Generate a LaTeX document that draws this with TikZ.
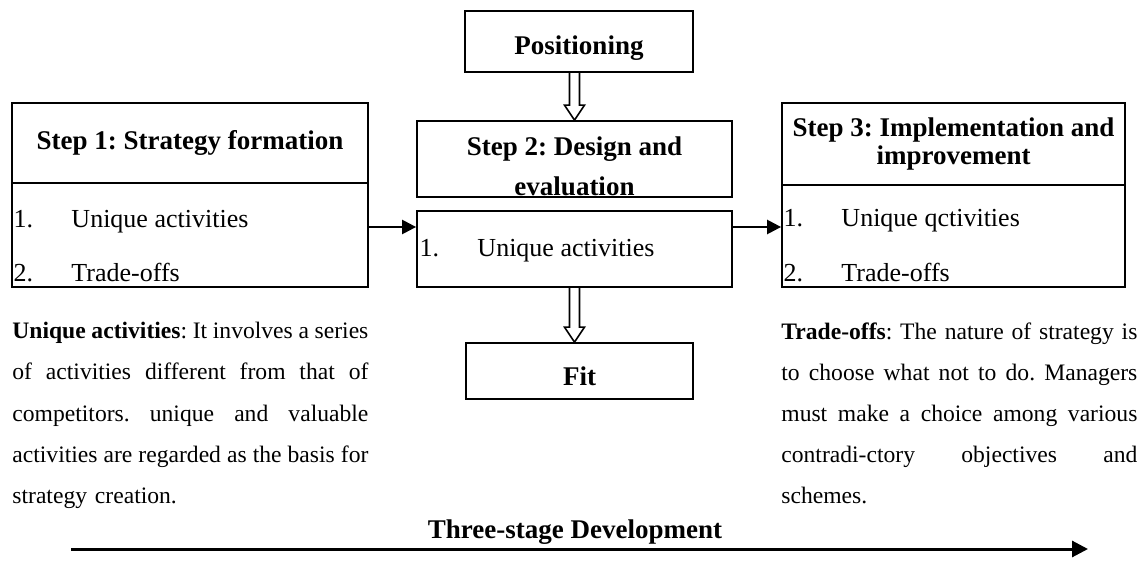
\documentclass[tikz,border=0pt]{standalone}
\usepackage{fontspec}
\setmainfont{Liberation Serif}
\usetikzlibrary{arrows.meta,positioning,calc}

% hollow down arrow: shaft from #1, tip at #2
\newcommand{\hollowdown}[2]{%
  \draw[hollow] ($(#1)+(-5,0)$) -- ($(#2)+(-5,-15)$) -- ($(#2)+(-10,-15)$) -- (#2)
    -- ($(#2)+(10,-15)$) -- ($(#2)+(5,-15)$) -- ($(#1)+(5,0)$);}
% one justified line of a description
\newcommand{\jline}[1]{{\spaceskip=0.25em plus 1fil minus 0.08em\makebox[178pt][s]{#1}}}

\begin{document}
\begin{tikzpicture}[x=0.5pt, y=-0.5pt,
    box/.style={draw, line width=0.9pt, inner sep=0pt, align=center, font=\fontsize{13.5}{14}\selectfont\bfseries\frenchspacing},
    item/.style={anchor=base west, inner sep=0pt, font=\fontsize{13}{14}\selectfont},
    para/.style={anchor=north west, inner sep=0pt, text width=178pt, align=left, font=\fontsize{11.8}{20.6}\selectfont\frenchspacing},
    arr/.style={-{Triangle[length=7pt, width=7pt]}, line width=1.2pt},
    hollow/.style={line width=0.8pt},
    longarr/.style={-{Triangle[length=8pt, width=8pt]}, line width=1.5pt}
]
\useasboundingbox (0,0) rectangle (1146,583);

% top and middle column
\node[box, minimum width=114pt, minimum height=30.5pt, text height=13.5pt, text depth=0pt] (pos) at (579,41.5) {Positioning};
\node[box, minimum width=157.5pt, minimum height=38pt] (s2head) at (574.5,159) {\rule{0pt}{16.5pt}Step 2: Design and\\[6pt] evaluation};
\node[box, minimum width=157.5pt, minimum height=38pt] (s2list) at (574.5,249) {};
\node[box, minimum width=113.5pt, minimum height=28pt, text height=14pt, text depth=0pt] (fit) at (579.5,371) {Fit};

% left and right steps
\node[box, minimum width=178pt, minimum height=40pt, text height=6pt, text depth=0pt] (s1head) at (190,143) {Step 1: Strategy formation};
\node[box, minimum width=178pt, minimum height=52pt] (s1list) at (190,235) {};
\node[box, minimum width=171.5pt, minimum height=41pt] (s3head) at (953.5,144) {Step 3: Implementation and\\[0pt] improvement};
\node[box, minimum width=171.5pt, minimum height=51pt] (s3list) at (953.5,236) {};

% list items
\node[item] (s1a) at ($(s1list.north west)+(2,45)$) {\makebox[29pt][l]{1.}Unique activities};
\node[item] (s1b) at ($(s1list.north west)+(2,99)$) {\makebox[29pt][l]{2.}Trade-offs};
\node[item] (s2a) at ($(s2list.north west)+(3,46)$) {\makebox[29pt][l]{1.}Unique activities};
\node[item] (s3a) at ($(s3list.north west)+(2,42)$) {\makebox[29pt][l]{1.}Unique qctivities};
\node[item] (s3b) at ($(s3list.north west)+(2,97)$) {\makebox[29pt][l]{2.}Trade-offs};

% connectors
\draw[arr] ([yshift=4pt]s1list.east) -- ([yshift=4pt]s1list.east -| s2list.west);
\draw[arr] ([yshift=4pt]s1list.east -| s2list.east) -- ([yshift=4pt]s1list.east -| s3list.west);
\coordinate (posfoot) at (pos.south -| s2head.north);
\coordinate (fittop) at (s2list.south |- fit.north);
\hollowdown{posfoot}{s2head.north}
\hollowdown{s2list.south}{fittop}

% descriptions
\node[para] (uniquedesc) at (12,322) {%
\jline{\textbf{Unique activities}: It involves a series}\\
\jline{of activities different from that of}\\
\jline{competitors. unique and valuable}\\
\jline{activities are regarded as the basis for}\\
strategy creation.};
\node[para] (tradedesc) at (781,322) {%
\jline{\textbf{Trade-offs}: The nature of strategy is}\\
\jline{to choose what not to do. Managers}\\
\jline{must make a choice among various}\\
\jline{contradi-ctory objectives and}\\
schemes.};

% development axis
\node[anchor=base, inner sep=0pt, font=\fontsize{13.5}{14}\selectfont\bfseries] (dev) at (575,538) {Three-stage Development};
\coordinate (devL) at (71,549);
\coordinate (devR) at (1088,549);
\draw[longarr] (devL) -- (devR);
\end{tikzpicture}
\end{document}
